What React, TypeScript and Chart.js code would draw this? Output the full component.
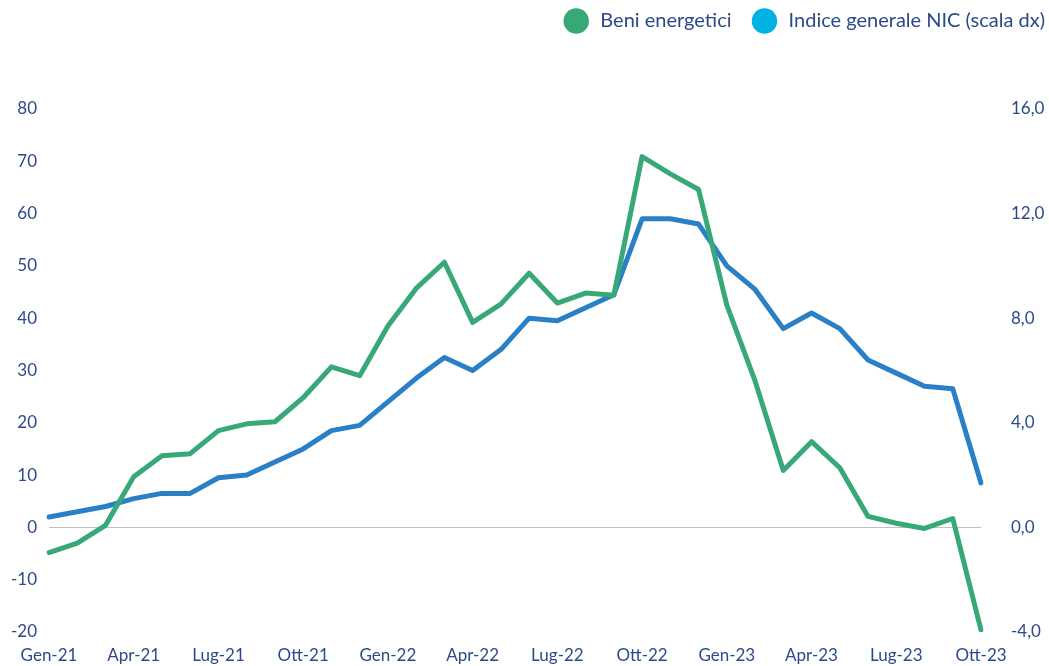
import React, { useEffect, useRef } from "react";
import { Chart, registerables } from "chart.js";

Chart.register(...registerables);

const months = [
  "Gen-21", "Feb-21", "Mar-21", "Apr-21", "Mag-21", "Giu-21", "Lug-21", "Ago-21", "Set-21", "Ott-21", "Nov-21", "Dic-21",
  "Gen-22", "Feb-22", "Mar-22", "Apr-22", "Mag-22", "Giu-22", "Lug-22", "Ago-22", "Set-22", "Ott-22", "Nov-22", "Dic-22",
  "Gen-23", "Feb-23", "Mar-23", "Apr-23", "Mag-23", "Giu-23", "Lug-23", "Ago-23", "Set-23", "Ott-23",
];

const beniEnergetici = [
  -4.8, -3.0, 0.4, 9.7, 13.7, 14.1, 18.5, 19.8, 20.2, 24.8, 30.7, 29.0,
  38.5, 45.7, 50.7, 39.2, 42.7, 48.6, 42.9, 44.8, 44.4, 70.9, 67.6, 64.6,
  42.5, 28.0, 10.9, 16.4, 11.4, 2.1, 0.8, -0.2, 1.7, -19.6,
];

const indiceNIC = [
  0.4, 0.6, 0.8, 1.1, 1.3, 1.3, 1.9, 2.0, 2.5, 3.0, 3.7, 3.9,
  4.8, 5.7, 6.5, 6.0, 6.8, 8.0, 7.9, 8.4, 8.9, 11.8, 11.8, 11.6,
  10.0, 9.1, 7.6, 8.2, 7.6, 6.4, 5.9, 5.4, 5.3, 1.7,
];

const seriesNames = ["Beni energetici", "Indice generale NIC (scala dx)"];
const lineColors = ["#37a877", "#2a80c6"];
const legendColors = ["#37a877", "#00b2e3"];
const textColor = "#2c4a8a";
const fontFamily = "Lato, 'Noto Sans', sans-serif";

const legendSpacer = {
  id: "legendSpacer",
  beforeInit(chart: any) {
    const legend = chart.legend;
    if (!legend) return;
    const origFit = legend.fit;
    legend.fit = function () {
      origFit.bind(legend)();
      legend.height += 55;
    };
  },
  afterLayout(chart: any) {
    const legend = chart.legend;
    if (!legend) return;
    legend.left += 20;
    legend.right += 20;
    legend.top -= 13;
  },
};

export default function App() {
  const canvasRef = useRef<HTMLCanvasElement | null>(null);

  useEffect(() => {
    if (!canvasRef.current) return;
    const chart = new Chart(canvasRef.current, {
      type: "line",
      data: {
        labels: months,
        datasets: [
          {
            label: seriesNames[0],
            data: beniEnergetici,
            borderColor: lineColors[0],
            backgroundColor: legendColors[0],
            borderWidth: 5,
            pointRadius: 0,
            tension: 0,
            borderJoinStyle: "round",
            borderCapStyle: "round",
            yAxisID: "y",
          },
          {
            label: seriesNames[1],
            data: indiceNIC,
            borderColor: lineColors[1],
            backgroundColor: legendColors[1],
            borderWidth: 5,
            pointRadius: 0,
            tension: 0,
            borderJoinStyle: "round",
            borderCapStyle: "round",
            yAxisID: "y1",
          },
        ],
      },
      plugins: [legendSpacer],
      options: {
        animation: false,
        responsive: false,
        maintainAspectRatio: false,
        devicePixelRatio: 1,
        layout: { padding: { left: 0, right: 0, top: 0, bottom: 0 } },
        plugins: {
          tooltip: { enabled: false },
          legend: {
            display: true,
            position: "top",
            align: "end",
            labels: {
              usePointStyle: true,
              pointStyle: "circle",
              boxWidth: 18,
              boxHeight: 18,
              padding: 24,
              color: textColor,
              font: { family: fontFamily, size: 20 },
              generateLabels: (c: any) =>
                c.data.datasets.map((ds: any, i: number) => ({
                  text: " " + ds.label,
                  fillStyle: legendColors[i],
                  strokeStyle: legendColors[i],
                  lineWidth: 0,
                  pointStyle: "circle",
                  hidden: false,
                  datasetIndex: i,
                  fontColor: textColor,
                })),
            },
          },
        },
        scales: {
          x: {
            type: "category",
            offset: false,
            afterFit: (scale: any) => {
              scale.height = 34;
            },
            grid: { display: false, drawTicks: false },
            border: { display: false },
            ticks: {
              autoSkip: false,
              maxRotation: 0,
              minRotation: 0,
              padding: 13,
              color: textColor,
              font: { family: fontFamily, size: 17 },
              callback: (_v: any, i: number) => (i % 3 === 0 ? months[i] : ""),
            },
          },
          y: {
            position: "left",
            min: -20,
            max: 80,
            afterFit: (scale: any) => {
              scale.width = 49;
              scale.paddingTop = 0;
              scale.paddingBottom = 0;
            },
            grid: {
              drawTicks: false,
              color: (ctx: any) => (ctx.tick && ctx.tick.value === 0 ? "#c0c0c0" : "rgba(0,0,0,0)"),
              lineWidth: 1,
            },
            border: { display: false },
            ticks: {
              stepSize: 10,
              padding: 12,
              color: textColor,
              font: { family: fontFamily, size: 17 },
            },
          },
          y1: {
            position: "right",
            min: -4,
            max: 16,
            afterFit: (scale: any) => {
              scale.width = 68;
              scale.paddingTop = 0;
              scale.paddingBottom = 0;
            },
            grid: { display: false, drawTicks: false },
            border: { display: false },
            ticks: {
              stepSize: 4,
              padding: 30,
              color: textColor,
              font: { family: fontFamily, size: 17 },
              callback: (v: any) => Number(v).toFixed(1).replace(".", ","),
            },
          },
        },
      },
    });
    return () => chart.destroy();
  }, []);

  return (
    <div style={{ position: "fixed", left: 0, top: 0, width: 1049, height: 666, background: "#fff" }}>
      <canvas ref={canvasRef} width={1049} height={666} style={{ display: "block", width: 1049, height: 666 }} />
    </div>
  );
}
